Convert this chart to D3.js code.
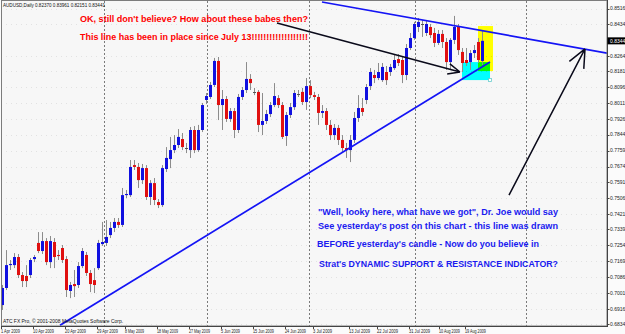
<!DOCTYPE html>
<html>
<head>
<meta charset="utf-8">
<script src="https://cdn.jsdelivr.net/npm/d3@7"></script>
<style>
  html, body { margin: 0; padding: 0; background: #fbfbfb; overflow: hidden; }
  svg { display: block; font-family: "Liberation Sans", Arial, sans-serif; }
</style>
</head>
<body>
<svg id="chart"></svg>
<script>
const WIDTH = 625;
const HEIGHT = 334;
const PLOT = { left: 1, right: 607, top: 1, bottom: 326 };

// AUDUSD daily, 1 Apr 2009 .. 19 Aug 2009 (one entry per bar)
const opens = [
  0.6936, 0.7027, 0.7149, 0.7149, 0.7192, 0.7096, 0.7091, 0.7096, 0.7181, 0.7267,
  0.7224, 0.7277, 0.7165, 0.7272, 0.7203, 0.7240, 0.7181, 0.7011, 0.7048, 0.7043,
  0.7144, 0.7203, 0.7107, 0.7069, 0.7133, 0.7261, 0.7267, 0.7309, 0.7347, 0.7379,
  0.7363, 0.7522, 0.7522, 0.7682, 0.7672, 0.7602, 0.7666, 0.7512, 0.7586, 0.7485,
  0.7469, 0.7661, 0.7714, 0.7762, 0.7789, 0.7821, 0.7778, 0.7762, 0.7869, 0.7762,
  0.7869, 0.8029, 0.8045, 0.8109, 0.8237, 0.8002, 0.8034, 0.7928, 0.7970, 0.7869,
  0.8045, 0.8082, 0.8141, 0.8077, 0.8072, 0.7896, 0.7917, 0.7954, 0.8002, 0.8039,
  0.8002, 0.7837, 0.7949, 0.7991, 0.8066, 0.8072, 0.8018, 0.8103, 0.8055, 0.8045,
  0.7960, 0.7970, 0.7896, 0.7842, 0.7880, 0.7816, 0.7773, 0.7762, 0.7816, 0.7933,
  0.7986, 0.8029, 0.8103, 0.8162, 0.8146, 0.8135, 0.8178, 0.8178, 0.8199, 0.8247,
  0.8242, 0.8162, 0.8306, 0.8359, 0.8418, 0.8439, 0.8386, 0.8418, 0.8386, 0.8333,
  0.8381, 0.8338, 0.8231, 0.8349, 0.8418, 0.8285, 0.8242, 0.8231, 0.8279, 0.8338,
  0.82370
];
const highs = [
  0.7043, 0.7229, 0.7176, 0.7213, 0.7208, 0.7112, 0.7149, 0.7187, 0.7203, 0.7325,
  0.7325, 0.7293, 0.7304, 0.7293, 0.7229, 0.7256, 0.7197, 0.7059, 0.7123, 0.7165,
  0.7240, 0.7219, 0.7123, 0.7133, 0.7283, 0.7379, 0.7389, 0.7379, 0.7400, 0.7400,
  0.7560, 0.7549, 0.7709, 0.7709, 0.7693, 0.7688, 0.7682, 0.7602, 0.7613, 0.7501,
  0.7682, 0.7778, 0.7832, 0.7842, 0.7874, 0.7853, 0.7800, 0.7885, 0.7890, 0.7896,
  0.8013, 0.8066, 0.8125, 0.8253, 0.8258, 0.8082, 0.8050, 0.7986, 0.7986, 0.8061,
  0.8098, 0.8231, 0.8167, 0.8093, 0.8082, 0.8066, 0.7976, 0.8018, 0.8119, 0.8055,
  0.8018, 0.7965, 0.8013, 0.8082, 0.8082, 0.8093, 0.8146, 0.8135, 0.8072, 0.8061,
  0.8002, 0.7986, 0.7922, 0.7901, 0.7896, 0.7842, 0.7800, 0.7842, 0.7965, 0.8055,
  0.8039, 0.8114, 0.8199, 0.8189, 0.8226, 0.8226, 0.8210, 0.8221, 0.8269, 0.8274,
  0.8258, 0.8327, 0.8386, 0.8445, 0.8466, 0.8455, 0.8455, 0.8434, 0.8413, 0.8402,
  0.8402, 0.8359, 0.8359, 0.8477, 0.8434, 0.8306, 0.8306, 0.8295, 0.8322, 0.8359,
  0.83961
];
const lows = [
  0.6910, 0.7016, 0.7123, 0.7133, 0.7080, 0.7032, 0.7032, 0.7080, 0.7165, 0.7213,
  0.7208, 0.7149, 0.7133, 0.7133, 0.7176, 0.7160, 0.6979, 0.6973, 0.6979, 0.7027,
  0.7133, 0.7091, 0.7005, 0.7000, 0.7123, 0.7251, 0.7251, 0.7293, 0.7325, 0.7347,
  0.7352, 0.7506, 0.7512, 0.7656, 0.7560, 0.7581, 0.7496, 0.7469, 0.7469, 0.7453,
  0.7459, 0.7645, 0.7666, 0.7746, 0.7773, 0.7762, 0.7746, 0.7720, 0.7746, 0.7752,
  0.7858, 0.8007, 0.8034, 0.8098, 0.7922, 0.7869, 0.7912, 0.7912, 0.7826, 0.7853,
  0.8029, 0.8066, 0.8082, 0.8055, 0.7858, 0.7842, 0.7901, 0.7938, 0.7991, 0.7986,
  0.7821, 0.7784, 0.7933, 0.7976, 0.8045, 0.8002, 0.7976, 0.8039, 0.8029, 0.7896,
  0.7933, 0.7869, 0.7816, 0.7816, 0.7789, 0.7752, 0.7720, 0.7698, 0.7800, 0.7912,
  0.7944, 0.8007, 0.8082, 0.8119, 0.8135, 0.8125, 0.8109, 0.8157, 0.8189, 0.8210,
  0.8119, 0.8135, 0.8295, 0.8349, 0.8391, 0.8365, 0.8370, 0.8359, 0.8311, 0.8322,
  0.8306, 0.8189, 0.8189, 0.8327, 0.8269, 0.8178, 0.8210, 0.8189, 0.8253, 0.8226,
  0.82151
];
const closes = [
  0.7027, 0.7149, 0.7155, 0.7192, 0.7096, 0.7064, 0.7064, 0.7176, 0.7192, 0.7224,
  0.7277, 0.7165, 0.7277, 0.7192, 0.7197, 0.7176, 0.7016, 0.7043, 0.7037, 0.7144,
  0.7224, 0.7107, 0.7048, 0.7043, 0.7267, 0.7272, 0.7299, 0.7347, 0.7379, 0.7363,
  0.7522, 0.7528, 0.7672, 0.7672, 0.7602, 0.7666, 0.7512, 0.7586, 0.7496, 0.7469,
  0.7666, 0.7720, 0.7762, 0.7789, 0.7832, 0.7778, 0.7773, 0.7869, 0.7762, 0.7869,
  0.8002, 0.8050, 0.8109, 0.8237, 0.8002, 0.8034, 0.7928, 0.7970, 0.7869, 0.8045,
  0.8082, 0.8141, 0.8119, 0.8072, 0.7896, 0.7917, 0.7954, 0.8002, 0.8050, 0.8002,
  0.7832, 0.7949, 0.7991, 0.8066, 0.8061, 0.8018, 0.8103, 0.8055, 0.8045, 0.7960,
  0.7970, 0.7896, 0.7842, 0.7880, 0.7816, 0.7773, 0.7762, 0.7816, 0.7933, 0.7986,
  0.7965, 0.8098, 0.8178, 0.8146, 0.8178, 0.8205, 0.8135, 0.8205, 0.8242, 0.8226,
  0.8162, 0.8306, 0.8359, 0.8434, 0.8445, 0.8434, 0.8434, 0.8375, 0.8333, 0.8381,
  0.8338, 0.8231, 0.8349, 0.8418, 0.8295, 0.8226, 0.8226, 0.8279, 0.8295, 0.8242,
  0.83441
];

const symbolTitle = "AUDUSD,Daily  0.82370 0.83961 0.82151 0.83441";
const lastPrice = 0.83441;
const priceTicks = [0.85165, 0.84340, 0.82640, 0.81815, 0.80965, 0.80115, 0.79265, 0.78440,
  0.77590, 0.76740, 0.75915, 0.75065, 0.74215, 0.73390, 0.72540, 0.71690, 0.70865,
  0.70015, 0.69165, 0.68340];
const dateTickBars = [0, 8, 16, 24, 31, 39, 47, 55, 63, 71, 78, 87, 94, 102, 109.5, 116];
const dateTickLabels = ["1 Apr 2009", "10 Apr 2009", "20 Apr 2009", "29 Apr 2009", "8 May 2009",
  "18 May 2009", "27 May 2009", "5 Jun 2009", "15 Jun 2009", "24 Jun 2009", "3 Jul 2009",
  "13 Jul 2009", "22 Jul 2009", "31 Jul 2009", "10 Aug 2009", "19 Aug 2009"];
const gridBars = [25.5, 51.25, 76.75, 103.25, 131];

// drawn objects, [bar, price]
const supportLine = [[14.5, 0.6828], [122, 0.8231]];
const resistanceLine = [[80, 0.8551], [151.25, 0.8279]];
const arrowLines = [
  [[68.75, 0.8439], [114.5, 0.8178]],
  [[126.75, 0.7522], [145.75, 0.8301]]
];
const yellowBox = [[119, 0.8423], [122.75, 0.8183]];
const cyanBox = [[115, 0.8231], [122, 0.8135]];

const UP_COLOR = "#1010e0";
const DOWN_COLOR = "#e01010";
const WICK_COLOR = "#8c8c8c";

const svg = d3.select("#chart").attr("width", WIDTH).attr("height", HEIGHT);

const x = d3.scaleLinear().domain([-0.25, 151.25]).range([PLOT.left, PLOT.right]);
const y = d3.scaleLinear().domain([0.6834, 0.85165]).range([324.2, 8.5]);

svg.append("defs").append("clipPath").attr("id", "plot-clip")
  .append("rect")
  .attr("x", PLOT.left).attr("y", PLOT.top)
  .attr("width", PLOT.right - PLOT.left).attr("height", PLOT.bottom - PLOT.top);

// plot background
svg.append("rect")
  .attr("x", PLOT.left).attr("y", PLOT.top)
  .attr("width", PLOT.right - PLOT.left).attr("height", PLOT.bottom - PLOT.top)
  .attr("fill", "#f7f7f7");

const plot = svg.append("g").attr("clip-path", "url(#plot-clip)");

// faint horizontal grid
plot.append("g")
  .selectAll("line")
  .data(priceTicks)
  .join("line")
  .attr("x1", PLOT.left).attr("x2", PLOT.right)
  .attr("y1", d => Math.round(y(d)) + 0.5).attr("y2", d => Math.round(y(d)) + 0.5)
  .attr("stroke", "#e2e2e2")
  .attr("stroke-dasharray", "1,4");

// vertical grid
plot.append("g")
  .selectAll("line")
  .data(gridBars)
  .join("line")
  .attr("x1", d => Math.round(x(d)) + 0.5).attr("x2", d => Math.round(x(d)) + 0.5)
  .attr("y1", PLOT.top).attr("y2", PLOT.bottom)
  .attr("stroke", "#7a7a7a")
  .attr("stroke-dasharray", "2,2");

// rectangles (multiply gives green where they overlap)
[[yellowBox, "#ffff00"], [cyanBox, "#00ffff"]].forEach(([box, color]) => {
  plot.append("rect")
    .attr("x", x(box[0][0])).attr("y", y(box[0][1]))
    .attr("width", x(box[1][0]) - x(box[0][0]))
    .attr("height", y(box[1][1]) - y(box[0][1]))
    .attr("fill", color)
    .style("mix-blend-mode", "multiply");
});
plot.append("rect")
  .attr("x", x(cyanBox[1][0]) - 1.5).attr("y", y(cyanBox[1][1]) - 1.5)
  .attr("width", 3).attr("height", 3)
  .attr("fill", "#fff").attr("stroke", "#66cccc").attr("stroke-width", 0.8);

// candles
const bars = opens.map((o, i) => ({ i, o, h: highs[i], l: lows[i], c: closes[i] }));
const candles = plot.append("g");

candles.selectAll("line.wick")
  .data(bars)
  .join("line")
  .attr("class", "wick")
  .attr("x1", d => Math.round(x(d.i)) + 0.5).attr("x2", d => Math.round(x(d.i)) + 0.5)
  .attr("y1", d => y(d.h)).attr("y2", d => y(d.l))
  .attr("stroke", WICK_COLOR);

candles.selectAll("rect.body")
  .data(bars.filter(d => Math.abs(y(d.o) - y(d.c)) >= 1))
  .join("rect")
  .attr("class", "body")
  .attr("x", d => Math.round(x(d.i)) - 1)
  .attr("y", d => Math.min(y(d.o), y(d.c)))
  .attr("width", 3)
  .attr("height", d => Math.abs(y(d.o) - y(d.c)))
  .attr("fill", d => d.c >= d.o ? UP_COLOR : DOWN_COLOR);

candles.selectAll("line.doji")
  .data(bars.filter(d => Math.abs(y(d.o) - y(d.c)) < 1))
  .join("line")
  .attr("class", "doji")
  .attr("x1", d => Math.round(x(d.i)) - 1).attr("x2", d => Math.round(x(d.i)) + 2)
  .attr("y1", d => Math.round(y(d.c)) + 0.5).attr("y2", d => Math.round(y(d.c)) + 0.5)
  .attr("stroke", "#555");

// trend lines
const lineGen = d3.line().x(d => x(d[0])).y(d => y(d[1]));
[supportLine, resistanceLine].forEach(pts => {
  plot.append("path")
    .attr("d", lineGen(pts))
    .attr("fill", "none")
    .attr("stroke", "#1414f5")
    .attr("stroke-width", 1.7);
});

// arrows
const HEAD = [13, 20];
arrowLines.forEach((pts, k) => {
  const x0 = x(pts[0][0]), y0 = y(pts[0][1]);
  const x1 = x(pts[1][0]), y1 = y(pts[1][1]);
  const back = Math.atan2(y0 - y1, x0 - x1);
  const spread = 24 * Math.PI / 180;
  const path = d3.path();
  path.moveTo(x0, y0);
  path.lineTo(x1, y1);
  [-spread, spread].forEach(a => {
    path.moveTo(x1, y1);
    path.lineTo(x1 + HEAD[k] * Math.cos(back + a), y1 + HEAD[k] * Math.sin(back + a));
  });
  plot.append("path")
    .attr("d", path.toString())
    .attr("fill", "none")
    .attr("stroke", "#0a0a1a")
    .attr("stroke-width", 1.5);
});

// frame
svg.append("rect")
  .attr("x", PLOT.left + 0.5).attr("y", 0.5)
  .attr("width", PLOT.right - PLOT.left - 0.5).attr("height", PLOT.bottom - 0.5)
  .attr("fill", "none").attr("stroke", "#7c7c7c");
svg.append("line")
  .attr("x1", PLOT.left).attr("x2", PLOT.right + 0.5)
  .attr("y1", PLOT.bottom + 0.5).attr("y2", PLOT.bottom + 0.5)
  .attr("stroke", "#444");
svg.append("line")
  .attr("x1", PLOT.right + 0.5).attr("x2", PLOT.right + 0.5)
  .attr("y1", 0).attr("y2", PLOT.bottom + 1)
  .attr("stroke", "#444");

// price axis (labels run off the right edge, as in the screenshot)
const priceAxis = svg.append("g").attr("font-size", 5).attr("fill", "#222");
priceAxis.selectAll("line")
  .data(priceTicks)
  .join("line")
  .attr("x1", PLOT.right).attr("x2", PLOT.right + 2.5)
  .attr("y1", d => Math.round(y(d)) + 0.5).attr("y2", d => Math.round(y(d)) + 0.5)
  .attr("stroke", "#444");
priceAxis.selectAll("text")
  .data(priceTicks)
  .join("text")
  .attr("x", PLOT.right + 3)
  .attr("y", d => y(d) + 1.8)
  .text(d3.format(".5f"));

priceAxis.append("rect")
  .attr("x", PLOT.right + 0.5).attr("y", y(lastPrice) - 3.5)
  .attr("width", 20).attr("height", 7)
  .attr("fill", "#000");
priceAxis.append("text")
  .attr("x", PLOT.right + 3).attr("y", y(lastPrice) + 1.8)
  .attr("fill", "#fff")
  .text(d3.format(".5f")(lastPrice));

// time axis
const timeAxis = svg.append("g").attr("font-size", 4.8).attr("fill", "#222");
timeAxis.selectAll("line")
  .data(dateTickBars)
  .join("line")
  .attr("x1", d => Math.round(x(d)) - 0.5).attr("x2", d => Math.round(x(d)) - 0.5)
  .attr("y1", PLOT.bottom + 1).attr("y2", PLOT.bottom + 3)
  .attr("stroke", "#444");
timeAxis.selectAll("text")
  .data(dateTickBars)
  .join("text")
  .attr("x", d => x(d) - 1)
  .attr("y", 332.5)
  .attr("textLength", (d, i) => dateTickLabels[i].length * 1.9)
  .attr("lengthAdjust", "spacingAndGlyphs")
  .text((d, i) => dateTickLabels[i]);

// corner texts
svg.append("text")
  .attr("x", 3).attr("y", 7)
  .attr("font-size", 5).attr("fill", "#111")
  .attr("textLength", 102).attr("lengthAdjust", "spacingAndGlyphs")
  .text(symbolTitle);
svg.append("text")
  .attr("x", 3).attr("y", 323)
  .attr("font-size", 5).attr("fill", "#111")
  .attr("textLength", 120).attr("lengthAdjust", "spacingAndGlyphs")
  .text("ATC FX Pro, \u00a9 2001-2008 MetaQuotes Software Corp.");

// annotations
const notes = [
  { text: "OK, still don't believe? How about these babes then?", x: 80, y: 21.5, w: 228, size: 9, color: "#ff0000" },
  { text: "This line has been in place since July 13!!!!!!!!!!!!!!!!!!!", x: 80, y: 40, w: 228, size: 9, color: "#ff0000" },
  { text: "\"Well, looky here, what have we got\", Dr. Joe would say", x: 318, y: 215, w: 240, size: 8.5, color: "#1a1af0" },
  { text: "See yesterday's post on this chart - this line was drawn", x: 318, y: 229, w: 240, size: 8.5, color: "#1a1af0" },
  { text: "BEFORE yesterday's candle - Now do you believe in", x: 317, y: 247, w: 222, size: 8.5, color: "#1a1af0" },
  { text: "Strat's DYNAMIC SUPPORT & RESISTANCE INDICATOR?", x: 319, y: 267, w: 239, size: 8.5, color: "#1a1af0" }
];
svg.append("g")
  .selectAll("text")
  .data(notes)
  .join("text")
  .attr("x", d => d.x).attr("y", d => d.y)
  .attr("font-size", d => d.size)
  .attr("font-weight", "bold")
  .attr("fill", d => d.color)
  .attr("textLength", d => d.w)
  .attr("lengthAdjust", "spacingAndGlyphs")
  .text(d => d.text);
</script>
</body>
</html>
